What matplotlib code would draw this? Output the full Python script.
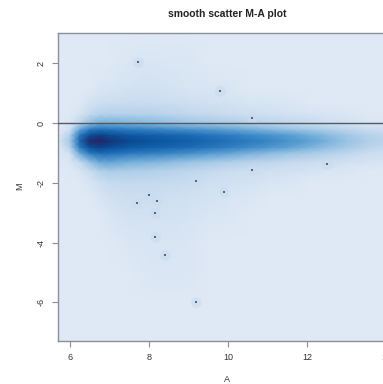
import numpy as np
import matplotlib
matplotlib.use("Agg")
import matplotlib.pyplot as plt
from matplotlib.colors import LinearSegmentedColormap

# ---- data ----
A_grid = [5.7, 6.0, 6.25, 6.5, 6.75, 7.0, 7.5, 8.0, 8.5, 9.0, 9.5, 10.0,
          10.5, 11.0, 11.5, 12.0, 12.5, 13.0, 13.5, 14.3]
M_grid = [-7.3, -6, -5, -4, -3, -2.5, -2, -1.6, -1.3, -1.0, -0.8, -0.6,
          -0.4, -0.2, 0.0, 0.3, 0.7, 1.2, 2, 3.05]

# smoothed density, one column per A value (ascending M), 0 = background, 1 = peak
density_cols = [
    [0, 0, 0, 0, 0, 0, 0, 0, 0, 0, 0, 0.02, 0, 0, 0, 0, 0, 0, 0, 0],
    [0, 0, 0, 0, 0, 0, 0, 0, 0.02, 0.05, 0.15, 0.2, 0.15, 0.05, 0.02, 0, 0, 0, 0, 0],
    [0, 0, 0, 0, 0, 0, 0, 0.03, 0.1, 0.35, 0.6, 0.7, 0.6, 0.35, 0.12, 0.04, 0, 0, 0, 0],
    [0, 0, 0, 0, 0, 0, 0.03, 0.08, 0.25, 0.6, 0.85, 0.97, 0.85, 0.55, 0.25, 0.1, 0.04, 0, 0, 0],
    [0, 0, 0, 0, 0, 0.03, 0.06, 0.15, 0.35, 0.68, 0.9, 1.0, 0.9, 0.62, 0.32, 0.14, 0.06, 0.02, 0, 0],
    [0, 0, 0, 0, 0.03, 0.05, 0.09, 0.18, 0.36, 0.66, 0.86, 0.95, 0.86, 0.6, 0.32, 0.15, 0.07, 0.03, 0, 0],
    [0, 0, 0, 0.02, 0.05, 0.07, 0.1, 0.17, 0.32, 0.6, 0.8, 0.88, 0.8, 0.55, 0.3, 0.15, 0.08, 0.04, 0.02, 0],
    [0, 0, 0.02, 0.03, 0.05, 0.07, 0.1, 0.16, 0.3, 0.56, 0.76, 0.84, 0.76, 0.52, 0.28, 0.15, 0.08, 0.05, 0.03, 0],
    [0, 0, 0.02, 0.03, 0.05, 0.06, 0.09, 0.14, 0.27, 0.52, 0.72, 0.8, 0.72, 0.48, 0.25, 0.13, 0.07, 0.04, 0.02, 0],
    [0, 0, 0.02, 0.02, 0.04, 0.05, 0.08, 0.12, 0.24, 0.48, 0.68, 0.76, 0.68, 0.44, 0.22, 0.11, 0.06, 0.03, 0.02, 0],
    [0, 0, 0, 0, 0.03, 0.04, 0.06, 0.1, 0.2, 0.42, 0.62, 0.7, 0.62, 0.4, 0.2, 0.1, 0.05, 0.03, 0, 0],
    [0, 0, 0, 0, 0.02, 0.03, 0.05, 0.08, 0.17, 0.37, 0.56, 0.64, 0.56, 0.36, 0.18, 0.08, 0.04, 0.02, 0, 0],
    [0, 0, 0, 0, 0, 0.02, 0.04, 0.07, 0.14, 0.32, 0.5, 0.58, 0.5, 0.32, 0.15, 0.07, 0.03, 0, 0, 0],
    [0, 0, 0, 0, 0, 0, 0.03, 0.06, 0.12, 0.28, 0.44, 0.52, 0.45, 0.28, 0.13, 0.06, 0.03, 0, 0, 0],
    [0, 0, 0, 0, 0, 0, 0.02, 0.05, 0.1, 0.24, 0.38, 0.45, 0.39, 0.24, 0.11, 0.05, 0.02, 0, 0, 0],
    [0, 0, 0, 0, 0, 0, 0, 0.04, 0.08, 0.2, 0.32, 0.38, 0.33, 0.2, 0.09, 0.04, 0, 0, 0, 0],
    [0, 0, 0, 0, 0, 0, 0, 0.03, 0.07, 0.16, 0.26, 0.31, 0.27, 0.16, 0.07, 0.03, 0, 0, 0, 0],
    [0, 0, 0, 0, 0, 0, 0, 0.02, 0.05, 0.12, 0.2, 0.24, 0.21, 0.12, 0.05, 0.02, 0, 0, 0, 0],
    [0, 0, 0, 0, 0, 0, 0, 0, 0.04, 0.08, 0.14, 0.17, 0.15, 0.08, 0.03, 0, 0, 0, 0, 0],
    [0, 0, 0, 0, 0, 0, 0, 0, 0.02, 0.05, 0.08, 0.1, 0.09, 0.05, 0.02, 0, 0, 0, 0, 0],
]

# outlying points drawn on top
outlier_A = [7.73, 7.7, 8.2, 8.16, 9.2, 8.0, 8.16, 8.4, 9.2, 9.8, 10.6, 10.6, 12.5, 9.9]
outlier_M = [2.03, -2.67, -2.6, -3.0, -1.93, -2.4, -3.8, -4.43, -5.97, 1.07, 0.17, -1.57, -1.37, -2.3]

x_ticks = [6, 8, 10, 12, 14]
y_ticks = [2, 0, -2, -4, -6]
title = "smooth scatter M-A plot"
x_label = "A"
y_label = "M"

# ---- drawing ----
plt.rcParams['font.family'] = ['Liberation Sans', 'DejaVu Sans']

cmap = LinearSegmentedColormap.from_list("smooth", [
    (0.0, "#DFE9F5"), (0.1, "#C4D9EE"), (0.24, "#98C3E3"), (0.38, "#5A9FD3"),
    (0.55, "#307FC2"), (0.68, "#1C6AB4"), (0.82, "#0C56A2"), (0.92, "#0A3F84"),
    (1.0, "#2A2463")])

fig = plt.figure(figsize=(3.83, 3.84), dpi=100)
left, bottom, width, height = 58/383, 1 - 341/384, (396 - 58)/383, (341 - 33)/384
ax = fig.add_axes([left, bottom, width, height])
ax.set_facecolor("#DFE9F5")

Z = np.array(density_cols).T
ax.pcolormesh(A_grid, M_grid, Z, shading='gouraud', cmap=cmap, vmin=0, vmax=1,
              rasterized=True)
# faint smoothing halo round each outlier, then the point itself
ax.scatter(outlier_A, outlier_M, s=60, marker='o', color="#C9DCEF", alpha=0.6,
           linewidths=0, zorder=2)
ax.scatter(outlier_A, outlier_M, s=1.6, marker='s', color="#56657f", linewidths=0, zorder=3)
ax.axhline(0, color="#555a60", lw=1.0, zorder=4)

ax.set_xlim(5.7, 14.25)
ax.set_ylim(-7.29, 3.01)
ax.set_xticks(x_ticks)
ax.set_yticks(y_ticks)
ax.set_xticklabels([str(t) for t in x_ticks], fontsize=6.5, color="#333333")
ax.set_yticklabels([str(t) for t in y_ticks], fontsize=6.5, color="#333333",
                   rotation=90, va='center')
ax.tick_params(direction='out', length=4, width=0.8, color="#8a8f99", pad=5)
for s in ax.spines.values():
    s.set_color("#8a8f99")
    s.set_linewidth(1.0)

fig.text(x=left + width/2, y=1 - 14/384, s=title, ha='center', va='center',
         fontsize=7.5, fontweight='bold', color="#222222")
fig.text(x=227/383, y=1 - 380/384, s=x_label,
         ha='center', va='center', fontsize=6.5, color="#333333")
fig.text(x=20/383, y=1 - 186/384, s=y_label, ha='center', va='center',
         fontsize=6.5, color="#333333", rotation=90)

fig.savefig("out.png", dpi=100)
